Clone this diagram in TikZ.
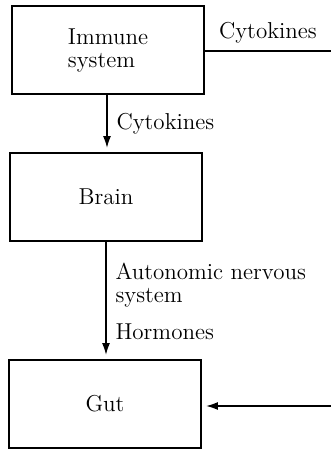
\documentclass[tikz,border=0pt]{standalone}
\usepackage{tikz}
\usetikzlibrary{arrows.meta}

\begin{document}
\begin{tikzpicture}[x=0.5pt,y=-0.5pt,
    font=\fontsize{11.5}{11.5}\selectfont,
    box/.style={draw, line width=0.9pt, minimum width=96pt, minimum height=44pt, align=left},
    link/.style={line width=0.9pt},
    arr/.style={line width=0.9pt, -{Latex[length=6pt,width=4pt]}, shorten >=2pt}]
  \useasboundingbox (0,0) rectangle (331,450);

  \node[box] (immune) at (108,50) {Immune\\system};
  \node[box] (brain) at (106,197) {Brain};
  \node[box] (gut) at (105,404) {Gut};

  \coordinate (outA) at (331,51);
  \coordinate (outB) at (331,406);

  \draw[link] (immune.east |- outA) -- (outA) node[midway, above] {Cytokines};
  \draw[arr] (immune.south -| 107,0) -- (brain.north -| 107,0)
    node[midway, right, xshift=1pt] {Cytokines};
  \draw[arr] (brain.south -| 106,0) -- (gut.north -| 106,0)
    node[pos=0.37, right, xshift=1pt, align=left] {Autonomic nervous\\system}
    node[pos=0.77, right, xshift=1pt] {Hormones};
  \draw[arr] (outB) -- (gut.east |- outB);
\end{tikzpicture}
\end{document}
